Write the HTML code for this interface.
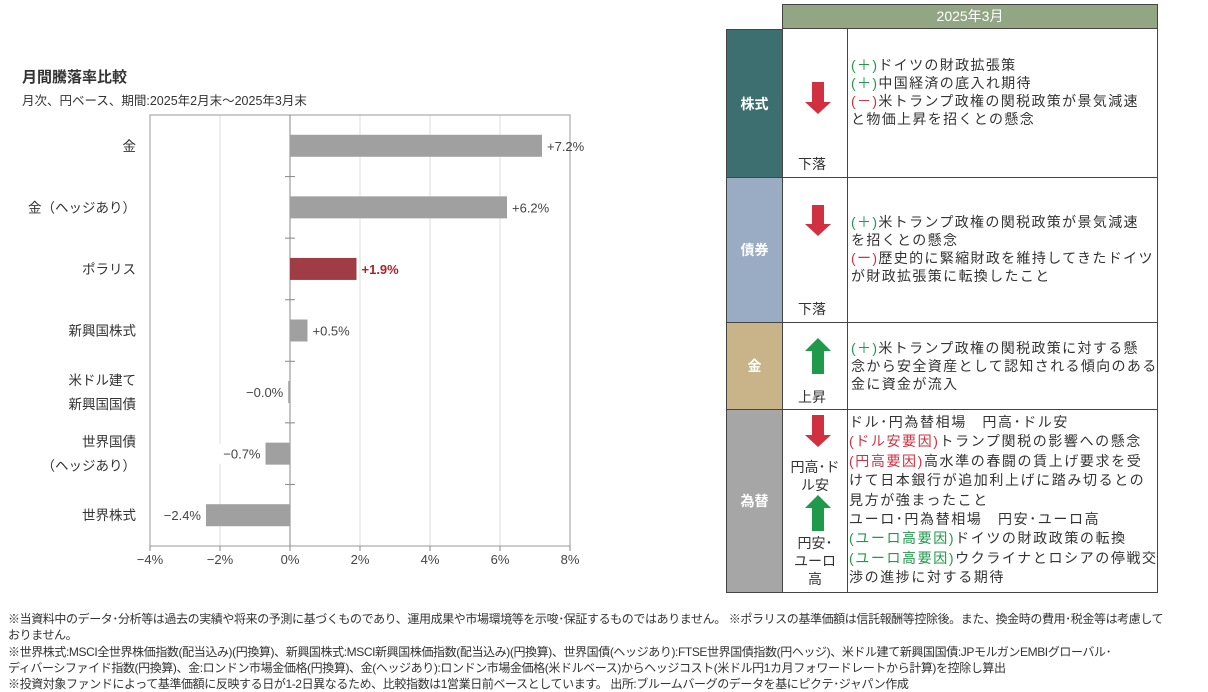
<!DOCTYPE html>
<html><head><meta charset="utf-8">
<style>
body{margin:0;width:1208px;height:690px;background:#fff;font-family:"Liberation Sans","Noto Sans CJK JP",sans-serif;color:#333;position:relative;overflow:hidden}
.abs{position:absolute}
.g{color:#1e9a4a}.r{color:#d0303f}
.cell{position:absolute;box-sizing:border-box;border:1.5px solid #444}
.txt{font-size:14px;line-height:18px;color:#333;white-space:nowrap}
.tt{letter-spacing:1.35px}
.foot{position:absolute;left:8px;width:1196px;font-size:12px;line-height:16.3px;color:#333;letter-spacing:-0.4px}
</style></head><body>
<div class="abs" style="left:22px;top:66px;font-size:15px;font-weight:bold;color:#333">月間騰落率比較</div>
<div class="abs" style="left:22px;top:90px;font-size:12.5px;color:#333">月次、円ベース、期間:2025年2月末～2025年3月末</div>
<svg class="abs" style="left:0;top:0" width="720" height="600" id="chart"></svg>

<div class="abs" style="left:782px;top:4px;width:376px;height:25px;background:#93a684;border:1.5px solid #444;box-sizing:border-box;color:#fff;font-size:14px;text-align:center;line-height:22px">2025年3月</div>

<div class="cell" style="left:726px;top:29px;width:57px;height:149px;background:#3d6e70;color:#fff;font-weight:bold;font-size:14px;display:flex;align-items:center;justify-content:center">株式</div>
<div class="cell" style="left:726px;top:177px;width:57px;height:146px;background:#9aabc4;color:#fff;font-weight:bold;font-size:14px;display:flex;align-items:center;justify-content:center">債券</div>
<div class="cell" style="left:726px;top:322px;width:57px;height:88px;background:#c9b48a;color:#fff;font-weight:bold;font-size:14px;display:flex;align-items:center;justify-content:center">金</div>
<div class="cell" style="left:726px;top:409px;width:57px;height:184px;background:#a6a6a6;color:#fff;font-weight:bold;font-size:14px;display:flex;align-items:center;justify-content:center">為替</div>

<div class="cell" style="left:782px;top:28px;width:66px;height:150px"></div>
<div class="cell" style="left:847px;top:28px;width:311px;height:150px"></div>
<div class="cell" style="left:782px;top:177px;width:66px;height:146px"></div>
<div class="cell" style="left:847px;top:177px;width:311px;height:146px"></div>
<div class="cell" style="left:782px;top:322px;width:66px;height:88px"></div>
<div class="cell" style="left:847px;top:322px;width:311px;height:88px"></div>
<div class="cell" style="left:782px;top:409px;width:66px;height:184px"></div>
<div class="cell" style="left:847px;top:409px;width:311px;height:184px"></div>

<svg class="abs" style="left:782px;top:0" width="66" height="600">
<g fill="#d0303f"><rect x="30" y="82" width="12" height="22"/><polygon points="23,102 49,102 36,114"/></g>
<g fill="#d0303f"><rect x="30" y="205" width="12" height="22"/><polygon points="23,224 49,224 36,236"/></g>
<g fill="#1e9a4a"><polygon points="23,351 49,351 36,338"/><rect x="30" y="350" width="12" height="24"/></g>
<g fill="#d0303f"><rect x="30" y="415" width="12" height="22"/><polygon points="23,435 49,435 36,447"/></g>
<g fill="#1e9a4a"><polygon points="23,508 49,508 36,495"/><rect x="30" y="507" width="12" height="24"/></g>
</svg>
<div class="abs txt" style="left:798px;top:155px">下落</div>
<div class="abs txt" style="left:798px;top:300px">下落</div>
<div class="abs txt" style="left:798px;top:388px">上昇</div>
<div class="abs txt" style="left:790px;top:458px;text-align:center;width:50px;white-space:normal">円高･ド<br>ル安</div>
<div class="abs txt" style="left:790px;top:534px;text-align:center;width:50px;white-space:normal">円安･<br>ユーロ<br>高</div>

<div class="abs txt tt" style="left:851px;top:56px"><span class="g">(＋)</span>ドイツの財政拡張策<br><span class="g">(＋)</span>中国経済の底入れ期待<br><span class="r">(－)</span>米トランプ政権の関税政策が景気減速<br>と物価上昇を招くとの懸念</div>
<div class="abs txt tt" style="left:851px;top:213px"><span class="g">(＋)</span>米トランプ政権の関税政策が景気減速<br>を招くとの懸念<br><span class="r">(ー)</span>歴史的に緊縮財政を維持してきたドイツ<br>が財政拡張策に転換したこと</div>
<div class="abs txt tt" style="left:851px;top:339px"><span class="g">(＋)</span>米トランプ政権の関税政策に対する懸<br>念から安全資産として認知される傾向のある<br>金に資金が流入</div>
<div class="abs txt" style="left:849px;top:413px;line-height:19.4px;letter-spacing:1.6px">ドル･円為替相場　円高･ドル安<br><span class="r">(ドル安要因)</span>トランプ関税の影響への懸念<br><span class="r">(円高要因)</span>高水準の春闘の賃上げ要求を受<br>けて日本銀行が追加利上げに踏み切るとの<br>見方が強まったこと<br>ユーロ･円為替相場　円安･ユーロ高<br><span class="g">(ユーロ高要因)</span>ドイツの財政政策の転換<br><span class="g">(ユーロ高要因)</span>ウクライナとロシアの停戦交<br>渉の進捗に対する期待</div>

<div class="foot" style="top:611px">※当資料中のデータ･分析等は過去の実績や将来の予測に基づくものであり、運用成果や市場環境等を示唆･保証するものではありません。 ※ポラリスの基準価額は信託報酬等控除後。また、換金時の費用･税金等は考慮して<br>おりません。<br>※世界株式:MSCI全世界株価指数(配当込み)(円換算)、新興国株式:MSCI新興国株価指数(配当込み)(円換算)、世界国債(ヘッジあり):FTSE世界国債指数(円ヘッジ)、米ドル建て新興国国債:JPモルガンEMBIグローバル･<br>ディバーシファイド指数(円換算)、金:ロンドン市場金価格(円換算)、金(ヘッジあり):ロンドン市場金価格(米ドルベース)からヘッジコスト(米ドル円1カ月フォワードレートから計算)を控除し算出<br>※投資対象ファンドによって基準価額に反映する日が1-2日異なるため、比較指数は1営業日前ベースとしています。 出所:ブルームバーグのデータを基にピクテ･ジャパン作成</div>

<script>
const categories=["金","金（ヘッジあり）","ポラリス","新興国株式","米ドル建て|新興国国債","世界国債|（ヘッジあり）","世界株式"];
const values=[7.2,6.2,1.9,0.5,-0.05,-0.7,-2.4];
const valueLabels=["+7.2%","+6.2%","+1.9%","+0.5%","−0.0%","−0.7%","−2.4%"];
const ticks=[-4,-2,0,2,4,6,8];
const tickLabels=["−4%","−2%","0%","2%","4%","6%","8%"];
const svg=document.getElementById('chart');const NS='http://www.w3.org/2000/svg';
const L=150,R=570,T=115,B=546,xmin=-4,xmax=8;
const x=v=>L+(v-xmin)/(xmax-xmin)*(R-L);
const band=(B-T)/categories.length;
const yc=i=>T+band*(i+0.5);
function mk(t,a){const e=document.createElementNS(NS,t);for(const k in a)e.setAttribute(k,a[k]);svg.appendChild(e);return e;}
ticks.forEach((t,i)=>{
 if(t!==0&&t!==xmin&&t!==xmax){const g=mk('line',{x1:x(t),x2:x(t),y1:T,y2:B,stroke:'#ddd','stroke-width':1});}
 const tk=mk('line',{x1:x(t),x2:x(t),y1:B,y2:B+5,stroke:'#888'});
 
 const tl=mk('text',{x:x(t),y:B+18,'text-anchor':'middle','font-size':13,fill:'#444'});tl.textContent=tickLabels[i];
 
});
const fr=mk('rect',{x:L,y:T,width:R-L,height:B-T,fill:'none',stroke:'#999'});

const za=mk('line',{x1:x(0),x2:x(0),y1:T,y2:B,stroke:'#888'});

for(let i=1;i<categories.length;i++){const c=mk('line',{x1:x(0)-5,x2:x(0)+5,y1:T+band*i,y2:T+band*i,stroke:'#888'});}
categories.forEach((c,i)=>{
 const v=values[i],pol=i===2;
 const b=mk('rect',{x:Math.min(x(0),x(v)),y:yc(i)-11,width:Math.max(2,Math.abs(x(v)-x(0))),height:22,fill:pol?'#a03c44':'#a0a0a0'});
 
 const vl=mk('text',{x:v>=0?x(v)+5:x(v)-5,y:yc(i)+5,'text-anchor':v>=0?'start':'end','font-size':13,fill:pol?'#b0222a':'#444','font-weight':pol?'bold':'normal'});
 vl.textContent=valueLabels[i];
 if(v<0){const bg=mk('rect',{x:x(v)-48,y:yc(i)-10,width:44,height:20,fill:'#fff'});svg.insertBefore(bg,vl);}
 
 const parts=c.split('|');
 parts.forEach((p,j)=>{const t=mk('text',{x:136,y:yc(i)+5+(j-(parts.length-1)/2)*24,'text-anchor':'end','font-size':13.5,fill:'#333'});t.textContent=p;
  });
});
</script>
</body></html>
